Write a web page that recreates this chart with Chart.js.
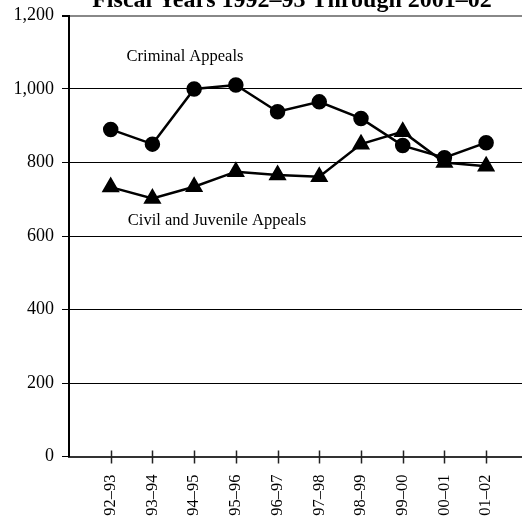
<!DOCTYPE html>
<html>
<head>
<meta charset="utf-8">
<script src="https://cdn.jsdelivr.net/npm/chart.js@4/dist/chart.umd.min.js"></script>
<style>
	html, body { margin: 0; background: #fff; overflow: hidden; }
	#wrap { width: 522px; height: 527px; position: relative; }
	canvas { display: block; }
</style>
</head>
<body>
<div id="wrap"><canvas id="myChart"></canvas></div>
<script>
var categories = ['92–93', '93–94', '94–95', '95–96', '96–97', '97–98', '98–99', '99–00', '00–01', '01–02'];
var criminalAppeals = [890, 850, 1000, 1011, 938, 965, 920, 846, 813, 854];
var civilAppeals = [733, 702, 734, 775, 766, 761, 850, 884, 800, 790];
var yTicks = [0, 200, 400, 600, 800, 1000, 1200];

var serif = '"Liberation Serif", "Times New Roman", serif';

function toPoints(values) {
	var pts = new Array();
	for (let i = 0; i < values.length; i++) {
		pts.push({ x: i + 1, y: values[i] });
	}
	return pts;
}

// 제목, 시리즈 이름, x축 눈금 그리기
var extras = {
	id: 'extras',
	afterDraw: function(chart) {
		var ctx = chart.ctx;
		var xs = chart.scales.x;
		var ys = chart.scales.y;
		ctx.save();

		ctx.strokeStyle = '#222';
		ctx.lineWidth = 1.5;
		xs.ticks.forEach(function(t) {
			var px = Math.round(xs.getPixelForValue(t.value)) + 0.5;
			ctx.beginPath();
			ctx.moveTo(px, ys.bottom - 6);
			ctx.lineTo(px, ys.bottom + 7);
			ctx.stroke();
		});

		ctx.fillStyle = '#000';
		ctx.textBaseline = 'alphabetic';
		ctx.textAlign = 'center';
		ctx.font = 'bold 24px ' + serif;
		ctx.fillText('Fiscal Years 1992–93 Through 2001–02', 292, 7);

		ctx.textAlign = 'left';
		ctx.textBaseline = 'middle';
		ctx.font = '16.5px ' + serif;
		ctx.fillText('Criminal Appeals', xs.getPixelForValue(1.38), ys.getPixelForValue(1087));
		ctx.fillText('Civil and Juvenile Appeals', xs.getPixelForValue(1.41), ys.getPixelForValue(641));
		ctx.restore();
	}
};

var ctx = document.getElementById('myChart').getContext('2d');
var myChart = new Chart(ctx, {
	type: 'line',
	data: {
		datasets: [{
			label: 'Criminal Appeals',
			data: toPoints(criminalAppeals),
			borderColor: '#000',
			backgroundColor: '#000',
			borderWidth: 2.5,
			pointStyle: 'circle',
			pointRadius: 6.5,
			pointHoverRadius: 6.5,
			tension: 0
		}, {
			label: 'Civil and Juvenile Appeals',
			data: toPoints(civilAppeals),
			borderColor: '#000',
			backgroundColor: '#000',
			borderWidth: 2.5,
			pointStyle: 'triangle',
			pointRadius: 8,
			pointHoverRadius: 8,
			tension: 0
		}]
	},
	options: {
		responsive: true,
		maintainAspectRatio: false,
		animation: false,
		layout: { autoPadding: false, padding: { top: 15.5, right: 0, left: 0, bottom: 0 } },
		plugins: {
			legend: { display: false },
			tooltip: { enabled: false },
			title: { display: false }
		},
		scales: {
			x: {
				type: 'linear',
				min: 0,
				max: 10.86,
				afterBuildTicks: function(scale) {
					scale.ticks = categories.map(function(c, i) { return { value: i + 1 }; });
				},
				afterFit: function(scale) {
					scale.height = 70.5;
					scale.paddingLeft = 0;
					scale.paddingRight = 0;
				},
				grid: { display: false },
				border: { display: true, color: '#333', width: 2 },
				ticks: {
					autoSkip: false,
					minRotation: 90,
					maxRotation: 90,
					padding: 10,
					color: '#000',
					font: { family: serif, size: 16.5 },
					callback: function(value) { return categories[value - 1] || ''; }
				}
			},
			y: {
				min: 0,
				max: 1200,
				afterBuildTicks: function(scale) {
					scale.ticks = yTicks.map(function(v) { return { value: v }; });
				},
				afterFit: function(scale) {
					scale.width = 69;
					scale.paddingTop = 0;
					scale.paddingBottom = 0;
				},
				grid: {
					color: function(c) { return c.tick && c.tick.value === 1200 ? '#888' : '#000'; },
					lineWidth: function(c) { return c.tick && c.tick.value === 1200 ? 2 : 1; },
					tickColor: '#000',
					tickLength: 7
				},
				border: { display: true, color: '#000', width: 2 },
				ticks: {
					padding: 8,
					color: '#000',
					font: { family: serif, size: 18 },
					callback: function(value) { return value.toLocaleString('en-US'); }
				}
			}
		}
	},
	plugins: [extras]
});
</script>
</body>
</html>
